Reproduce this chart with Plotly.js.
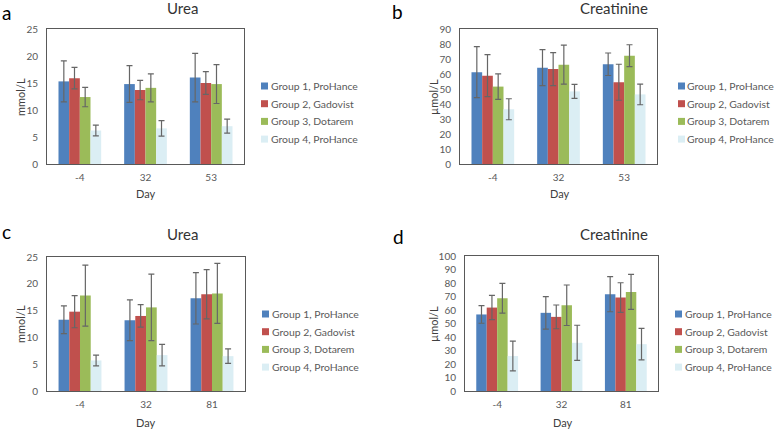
<!DOCTYPE html>
<html>
<head>
<meta charset="utf-8">
<script src="https://cdn.plot.ly/plotly-3.0.1.min.js"></script>
<style>html,body{margin:0;padding:0;background:#fff}#chart{width:777px;height:429px}</style>
</head>
<body>
<div id="chart"></div>
<script>
// ---- data ----
const groupNames = ['Group 1, ProHance', 'Group 2, Gadovist', 'Group 3, Dotarem', 'Group 4, ProHance'];
const groupColors = ['#4f81bd', '#c0504d', '#9bbb59', '#dbeef4'];

const daysTop = ['-4', '32', '53'];
const daysBottom = ['-4', '32', '81'];

// Panel a: Urea (mmol/L)
const ureaA_g1 = [15.3, 14.8, 16.0];  const ureaA_g1_err = [3.8, 3.4, 4.5];
const ureaA_g2 = [15.9, 13.7, 15.0];  const ureaA_g2_err = [2.0, 1.8, 2.1];
const ureaA_g3 = [12.4, 14.1, 14.8];  const ureaA_g3_err = [1.8, 2.6, 3.6];
const ureaA_g4 = [6.2, 6.6, 7.0];     const ureaA_g4_err = [1.0, 1.45, 1.3];

// Panel b: Creatinine (µmol/L)
const creaB_g1 = [61.2, 64.2, 66.5];  const creaB_g1_err = [17, 12, 7.5];
const creaB_g2 = [58.9, 63.3, 54.5];  const creaB_g2_err = [14, 11, 12];
const creaB_g3 = [51.6, 66.2, 72.2];  const creaB_g3_err = [8.5, 13, 7.3];
const creaB_g4 = [36.5, 48.4, 46.4];  const creaB_g4_err = [7, 4.7, 6.9];

// Panel c: Urea (mmol/L)
const ureaC_g1 = [13.3, 13.2, 17.3];  const ureaC_g1_err = [2.6, 3.8, 4.8];
const ureaC_g2 = [14.8, 14.0, 18.05]; const ureaC_g2_err = [3.0, 2.1, 4.6];
const ureaC_g3 = [17.8, 15.6, 18.2];  const ureaC_g3_err = [5.7, 6.2, 5.6];
const ureaC_g4 = [5.7, 6.7, 6.5];     const ureaC_g4_err = [1.0, 2.0, 1.35];

// Panel d: Creatinine (µmol/L)
const creaD_g1 = [56.7, 57.9, 71.7];  const creaD_g1_err = [6.5, 12, 13];
const creaD_g2 = [61.8, 54.9, 69.2];  const creaD_g2_err = [9, 8.8, 11];
const creaD_g3 = [68.7, 63.5, 73.4];  const creaD_g3_err = [11, 15, 13];
const creaD_g4 = [25.9, 35.7, 34.7];  const creaD_g4_err = [11, 13, 11.7];

const panelLetters = ['a', 'b', 'c', 'd'];
const panelTitles = ['Urea', 'Creatinine', 'Urea', 'Creatinine'];
const yTitles = ['mmol/L', 'µmol/L', 'mmol/L', 'µmol/L'];
const xTitle = 'Day';

// ---- build ----
const W = 777, H = 429;
const FONT = 'Lato, "Open Sans", sans-serif';
const panels = [
  {days: daysTop, vals: [ureaA_g1, ureaA_g2, ureaA_g3, ureaA_g4], errs: [ureaA_g1_err, ureaA_g2_err, ureaA_g3_err, ureaA_g4_err],
   box: [47, 244, 29, 164], yrange: [0, 25], dtick: 5, leg: {sw: 261, tx: 270, y0: 86}, title: [182, 8], letter: [0, 12], ytitle: [20, 97], xtitle: [146, 193]},
  {days: daysTop, vals: [creaB_g1, creaB_g2, creaB_g3, creaB_g4], errs: [creaB_g1_err, creaB_g2_err, creaB_g3_err, creaB_g4_err],
   box: [460, 657, 29, 164], yrange: [0, 90], dtick: 10, leg: {sw: 678, tx: 686, y0: 86}, title: [614, 8], letter: [390, 11], ytitle: [433, 97], xtitle: [560, 193]},
  {days: daysBottom, vals: [ureaC_g1, ureaC_g2, ureaC_g3, ureaC_g4], errs: [ureaC_g1_err, ureaC_g2_err, ureaC_g3_err, ureaC_g4_err],
   box: [47, 245, 257, 391], yrange: [0, 25], dtick: 5, leg: {sw: 262, tx: 271, y0: 314}, title: [182, 234], letter: [0, 231], ytitle: [20, 324], xtitle: [146, 422]},
  {days: daysBottom, vals: [creaD_g1, creaD_g2, creaD_g3, creaD_g4], errs: [creaD_g1_err, creaD_g2_err, creaD_g3_err, creaD_g4_err],
   box: [465, 658, 256, 391], yrange: [0, 100], dtick: 10, leg: {sw: 675, tx: 684, y0: 314}, title: [614, 234], letter: [391, 236], ytitle: [433, 324], xtitle: [563, 422]}
];

const traces = [];
const layout = {
  width: W, height: H,
  margin: {l: 0, r: 0, t: 0, b: 0},
  paper_bgcolor: '#fff', plot_bgcolor: '#fff',
  barmode: 'group', bargap: 0.35, bargroupgap: 0,
  font: {family: FONT, color: '#595959', size: 10},
  showlegend: false,
  annotations: [],
  shapes: []
};
const px = v => v / W;
const py = v => 1 - v / H;
const ROW = 17.7, SW = 7;

panels.forEach((p, i) => {
  const n = i === 0 ? '' : String(i + 1);
  const xa = 'x' + n, ya = 'y' + n;
  p.vals.forEach((v, g) => {
    traces.push({
      type: 'bar', x: p.days, y: v, name: groupNames[g],
      xaxis: xa, yaxis: ya,
      marker: {color: groupColors[g], line: {width: 0}},
      error_y: {type: 'data', array: p.errs[g], visible: true, color: '#666666', thickness: 1.2, width: 3},
      hoverinfo: 'skip'
    });
  });
  const [x0, x1, y0, y1] = p.box;
  layout['xaxis' + n] = {
    domain: [px(x0), px(x1)], anchor: ya, type: 'category',
    showline: true, mirror: true, linecolor: '#595959', linewidth: 1,
    ticks: '', showgrid: false, zeroline: false, ticklabelstandoff: 4,
    tickfont: {family: FONT, size: 10, color: '#595959'},
    fixedrange: true
  };
  layout['yaxis' + n] = {
    domain: [py(y1), py(y0)], anchor: xa, range: p.yrange, dtick: p.dtick,
    showline: true, mirror: true, linecolor: '#595959', linewidth: 1,
    ticks: '', showgrid: false, zeroline: false, ticklabelstandoff: 6,
    tickfont: {family: FONT, size: 10, color: '#595959'},
    fixedrange: true
  };
  // legend (swatches + labels)
  groupNames.forEach((name, g) => {
    const cy = p.leg.y0 + g * ROW;
    layout.shapes.push({
      type: 'rect', xref: 'paper', yref: 'paper',
      x0: px(p.leg.sw), x1: px(p.leg.sw + SW), y0: py(cy - SW / 2), y1: py(cy + SW / 2),
      fillcolor: groupColors[g], line: {width: 0}
    });
    layout.annotations.push({
      text: name, x: px(p.leg.tx - 1), y: py(cy), xref: 'paper', yref: 'paper',
      xanchor: 'left', yanchor: 'middle', showarrow: false,
      font: {family: FONT, size: 10.4, color: '#595959'}
    });
  });
  layout.annotations.push(
    {text: panelTitles[i], x: px(p.title[0]), y: py(p.title[1]), xref: 'paper', yref: 'paper',
     xanchor: 'center', yanchor: 'middle', showarrow: false, font: {family: FONT, size: 15, color: '#333333'}},
    {text: panelLetters[i], x: px(p.letter[0]), y: py(p.letter[1]), xref: 'paper', yref: 'paper',
     xanchor: 'left', yanchor: 'middle', showarrow: false, font: {family: FONT, size: 19, color: '#000'}},
    {text: yTitles[i], x: px(p.ytitle[0]), y: py(p.ytitle[1]), xref: 'paper', yref: 'paper',
     xanchor: 'center', yanchor: 'middle', textangle: -90, showarrow: false, font: {family: FONT, size: 11, color: '#404040'}},
    {text: xTitle, x: px(p.xtitle[0]), y: py(p.xtitle[1]), xref: 'paper', yref: 'paper',
     xanchor: 'center', yanchor: 'middle', showarrow: false, font: {family: FONT, size: 11, color: '#404040'}}
  );
});

Plotly.newPlot('chart', traces, layout, {displayModeBar: false, staticPlot: true});
</script>
</body>
</html>
